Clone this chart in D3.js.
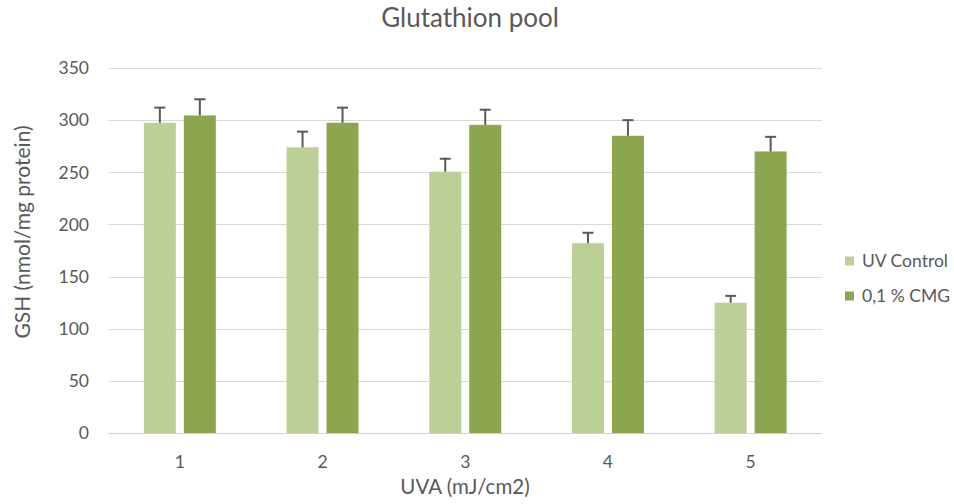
<!DOCTYPE html>
<html>
<head>
<meta charset="utf-8">
<script src="https://cdn.jsdelivr.net/npm/d3@7"></script>
<style>
  body { margin: 0; background: #fff; }
  svg { font-family: Lato, "Open Sans", sans-serif; }
</style>
</head>
<body>
<svg id="chart" width="954" height="504"></svg>
<script>
const categories = ["1", "2", "3", "4", "5"];
const seriesNames = ["UV Control", "0,1 % CMG"];
const uvControl = [297.5, 274, 250.5, 182, 125];
const uvControlErr = [14.5, 15, 12.5, 10, 6.5];
const cmg = [304.5, 297.5, 295.5, 285, 270];
const cmgErr = [15.5, 14.5, 14.5, 15, 14];
const yTicks = [0, 50, 100, 150, 200, 250, 300, 350];
const colors = ["#bccf97", "#8ba64f"];

const svg = d3.select("#chart");
const plotLeft = 108.5, plotRight = 822, plotTop = 68, plotBottom = 433;

const x = d3.scaleBand().domain(categories).range([plotLeft, plotRight]).paddingInner(0).paddingOuter(0);
const x1 = d3.scaleBand().domain(seriesNames).range([0, x.bandwidth()]).paddingInner(0.2).paddingOuter(0.885);
const y = d3.scaleLinear().domain([0, 350]).range([plotBottom, plotTop]);

// gridlines
svg.append("g").selectAll("line").data(yTicks).join("line")
  .attr("x1", plotLeft).attr("x2", plotRight)
  .attr("y1", d => Math.round(y(d)) + 0.5).attr("y2", d => Math.round(y(d)) + 0.5)
  .attr("stroke", "#d9d9d9").attr("stroke-width", 1);

// y tick labels
svg.append("g").selectAll("text").data(yTicks).join("text")
  .attr("x", 89).attr("y", d => y(d) + 6.3)
  .attr("text-anchor", "end").attr("font-size", 17.5).attr("fill", "#595959")
  .text(d => d);

const series = [
  {name: seriesNames[0], values: uvControl, err: uvControlErr, color: colors[0]},
  {name: seriesNames[1], values: cmg, err: cmgErr, color: colors[1]}
];

series.forEach(s => {
  const g = svg.append("g");
  const data = categories.map((c, i) => ({c, v: s.values[i], e: s.err[i]}));
  g.selectAll("rect").data(data).join("rect")
    .attr("x", d => x(d.c) + x1(s.name))
    .attr("width", x1.bandwidth())
    .attr("y", d => y(d.v))
    .attr("height", d => y(0) - y(d.v))
    .attr("fill", s.color);
  const cx = d => x(d.c) + x1(s.name) + x1.bandwidth() / 2;
  g.selectAll("line.v").data(data).join("line").attr("class", "v")
    .attr("x1", cx).attr("x2", cx)
    .attr("y1", d => y(d.v)).attr("y2", d => y(d.v + d.e))
    .attr("stroke", "#595959").attr("stroke-width", 2);
  g.selectAll("line.c").data(data).join("line").attr("class", "c")
    .attr("x1", d => cx(d) - 5.5).attr("x2", d => cx(d) + 5.5)
    .attr("y1", d => y(d.v + d.e)).attr("y2", d => y(d.v + d.e))
    .attr("stroke", "#595959").attr("stroke-width", 2);
});

// x axis line
svg.append("line").attr("x1", plotLeft).attr("x2", plotRight)
  .attr("y1", Math.round(y(0)) + 0.5).attr("y2", Math.round(y(0)) + 0.5)
  .attr("stroke", "#d0d0d0").attr("stroke-width", 1);

// x tick labels
svg.append("g").selectAll("text").data(categories).join("text")
  .attr("x", d => x(d) + x.bandwidth() / 2).attr("y", 468)
  .attr("text-anchor", "middle").attr("font-size", 17.5).attr("fill", "#595959")
  .text(d => d);

// titles
svg.append("text").attr("x", 470).attr("y", 27).attr("text-anchor", "middle")
  .attr("font-size", 26).attr("fill", "#595959").text("Glutathion pool");
svg.append("text").attr("x", 465).attr("y", 494).attr("text-anchor", "middle")
  .attr("font-size", 20.5).attr("fill", "#595959").text("UVA (mJ/cm2)");
svg.append("text").attr("transform", "translate(30,232) rotate(-90)").attr("text-anchor", "middle")
  .attr("font-size", 21).attr("fill", "#595959").text("GSH (nmol/mg protein)");

// legend
const leg = svg.append("g");
series.forEach((s, i) => {
  const ly = 261 + i * 35;
  leg.append("rect").attr("x", 845).attr("y", ly - 4.5).attr("width", 9).attr("height", 9).attr("fill", s.color);
  leg.append("text").attr("x", 862).attr("y", ly + 6).attr("font-size", 17.5).attr("fill", "#595959").text(s.name);
});
</script>
</body>
</html>
